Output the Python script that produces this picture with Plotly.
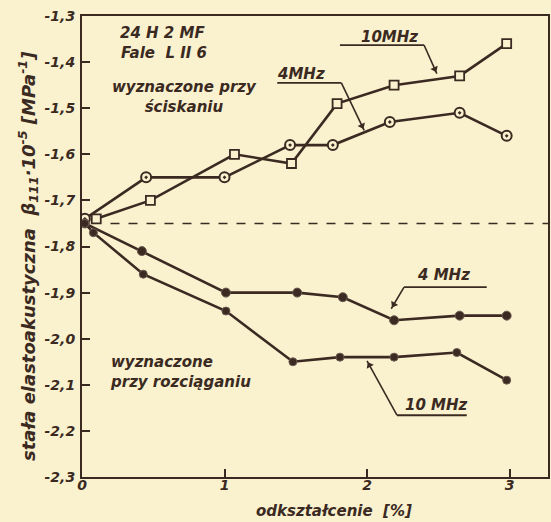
import math
import plotly.graph_objects as go

# ---- data ----
x_comp_4 = [0.02, 0.45, 1.00, 1.46, 1.76, 2.16, 2.65, 2.98]
y_comp_4 = [-1.74, -1.65, -1.65, -1.58, -1.58, -1.53, -1.51, -1.56]

x_comp_10 = [0.10, 0.48, 1.07, 1.47, 1.79, 2.19, 2.65, 2.98]
y_comp_10 = [-1.74, -1.70, -1.60, -1.62, -1.49, -1.45, -1.43, -1.36]

x_tens_4 = [0.02, 0.42, 1.01, 1.51, 1.83, 2.19, 2.65, 2.98]
y_tens_4 = [-1.75, -1.81, -1.90, -1.90, -1.91, -1.96, -1.95, -1.95]

x_tens_10 = [0.02, 0.08, 0.43, 1.01, 1.48, 1.81, 2.19, 2.63, 2.98]
y_tens_10 = [-1.75, -1.77, -1.86, -1.94, -2.05, -2.04, -2.04, -2.03, -2.09]

reference_level = -1.75

x_ticks = [0, 1, 2, 3]
x_ticklabels = ["0", "1", "2", "3"]
y_ticks = [-1.3, -1.4, -1.5, -1.6, -1.7, -1.8, -1.9, -2.0, -2.1, -2.2, -2.3]
y_ticklabels = ["-1,3", "-1,4", "-1,5", "-1,6", "-1,7", "-1,8", "-1,9", "-2,0", "-2,1", "-2,2", "-2,3"]

X_RANGE = [0, 3.27]
Y_RANGE = [-2.3, -1.3]

# ---- style ----
BG = "#faf2cf"
INK = "#3a2a22"
FONT = "DejaVu Sans"
W, H = 551, 522
ML, MR, MT, MB = 82, 3, 16, 45
PW, PH = W - ML - MR, H - MT - MB


def f(size):
    return dict(family=FONT, size=size, color=INK, style="italic", weight="bold")


fig = go.Figure()

line = dict(color=INK, width=2.6)
fig.add_trace(go.Scatter(x=x_comp_4, y=y_comp_4, mode="lines+markers", line=line,
                         marker=dict(symbol="circle-dot", size=10, color=BG,
                                     line=dict(color=INK, width=2)), showlegend=False))
fig.add_trace(go.Scatter(x=x_comp_10, y=y_comp_10, mode="lines+markers", line=line,
                         marker=dict(symbol="square", size=9, color=BG,
                                     line=dict(color=INK, width=1.8)), showlegend=False))
fig.add_trace(go.Scatter(x=x_tens_4, y=y_tens_4, mode="lines+markers", line=line,
                         marker=dict(symbol="circle", size=9, color=INK,
                                     line=dict(color="#6a5a50", width=1)), showlegend=False))
fig.add_trace(go.Scatter(x=x_tens_10, y=y_tens_10, mode="lines+markers", line=line,
                         marker=dict(symbol="circle", size=8, color=INK,
                                     line=dict(color="#6a5a50", width=1)), showlegend=False))

# dashed reference line
fig.add_shape(type="line", x0=0.2, x1=X_RANGE[1], y0=reference_level, y1=reference_level,
              line=dict(color=INK, width=1.6, dash="dash"), layer="below")

# callouts: (text, text x, text y, underline x0, x1, y, tip x, tip y, join side)
callouts = [
    ("10MHz", 2.16, -1.345, 1.81, 2.40, -1.363, 2.49, -1.425, "right"),
    ("4MHz", 1.54, -1.426, 1.37, 1.82, -1.445, 1.98, -1.548, "right"),
    ("4 MHz", 2.54, -1.862, 2.26, 2.84, -1.888, 2.17, -1.935, "left"),
    ("10 MHz", 2.49, -2.144, 2.21, 2.70, -2.166, 2.00, -2.048, "left"),
]
sx = PW / (X_RANGE[1] - X_RANGE[0])
sy = PH / (Y_RANGE[1] - Y_RANGE[0])
ah_x, ah_y, ah_ang = [], [], []
for txt, tx, ty, ux0, ux1, uy, px, py, side in callouts:
    fig.add_annotation(x=tx, y=ty, text=txt, showarrow=False, font=f(15))
    fig.add_shape(type="line", x0=ux0, x1=ux1, y0=uy, y1=uy, line=dict(color=INK, width=1.8))
    jx = ux1 if side == "right" else ux0
    fig.add_shape(type="line", x0=jx, x1=px, y0=uy, y1=py, line=dict(color=INK, width=1.6))
    dxp = (px - jx) * sx
    dyp = -(py - uy) * sy  # screen down positive
    L = math.hypot(dxp, dyp)
    back = 5.0
    ah_x.append(px - dxp / L * back / sx)
    ah_y.append(py + dyp / L * back / sy)
    ah_ang.append(math.degrees(math.atan2(dxp, -dyp)))

fig.add_trace(go.Scatter(x=ah_x, y=ah_y, mode="markers", showlegend=False, hoverinfo="skip",
                         marker=dict(symbol="triangle-up", size=7, angle=ah_ang,
                                     color=INK, line=dict(width=0))))

# free texts
fig.add_annotation(x=0.25, y=-1.337, text="24 H 2 MF", showarrow=False, xanchor="left", font=f(15))
fig.add_annotation(x=0.26, y=-1.381, text="Fale  L II 6", showarrow=False, xanchor="left", font=f(15))
fig.add_annotation(x=0.72, y=-1.475, text="wyznaczone przy<br>ściskaniu", showarrow=False,
                   align="center", font=f(15))
fig.add_annotation(x=0.18, y=-2.073, text="wyznaczone<br>przy rozciąganiu", showarrow=False,
                   xanchor="left", align="left", font=f(15))

# axis titles as free texts (positioned like the reference)
fig.add_annotation(xref="paper", yref="paper", x=(334 - ML) / PW, y=(H - MB - 511) / PH,
                   xanchor="center", yanchor="middle",
                   text="odkształcenie  [%]", showarrow=False, font=f(15))
fig.add_annotation(xref="paper", yref="paper", x=(28 - ML) / PW, y=(H - MB - 256) / PH,
                   xanchor="center", yanchor="middle", textangle=-90,
                   text="stała elastoakustyczna  β<sub>111</sub>·10<sup>-5</sup> [MPa<sup>-1</sup>]",
                   showarrow=False, font=f(18))

axis_common = dict(ticks="inside", ticklen=8, tickwidth=1.8, tickcolor=INK,
                   showline=True, linecolor=INK, linewidth=2, mirror=True,
                   showgrid=False, zeroline=False, automargin=False, tickfont=f(14))
fig.update_xaxes(range=X_RANGE, tickvals=x_ticks, ticktext=x_ticklabels,
                 ticklabelstandoff=-6, **axis_common)
fig.update_yaxes(range=Y_RANGE, tickvals=y_ticks, ticktext=y_ticklabels,
                 ticklabelstandoff=2, **axis_common)

fig.update_layout(width=W, height=H, paper_bgcolor=BG, plot_bgcolor=BG,
                  margin=dict(l=ML, r=MR, t=MT, b=MB), showlegend=False)

fig.write_html("out.html", config={"displayModeBar": False},
               post_script="document.body.style.margin='0px';document.body.style.overflow='hidden';")
